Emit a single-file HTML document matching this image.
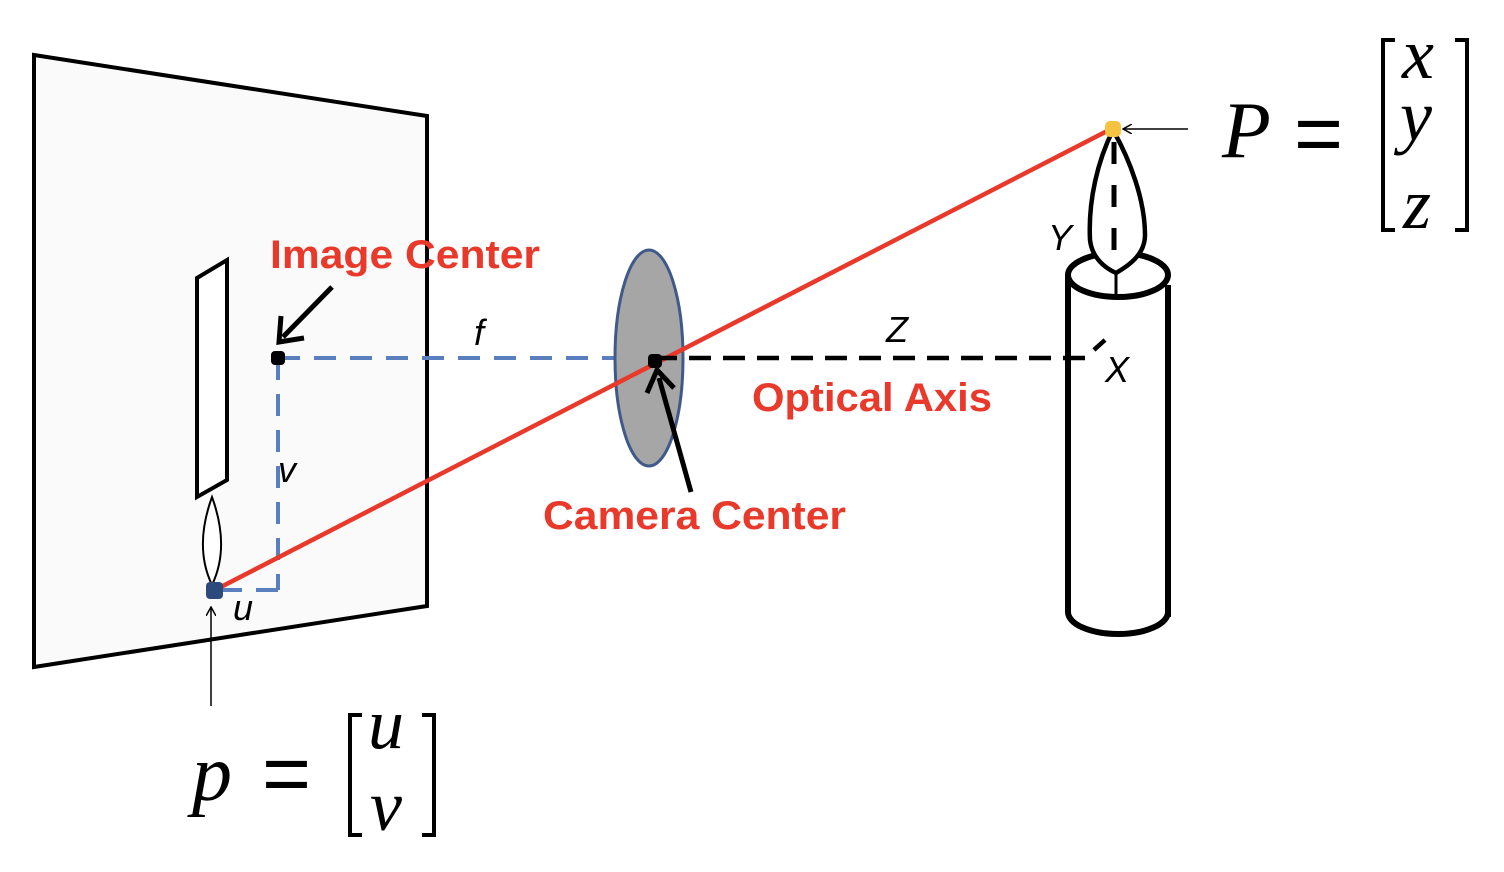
<!DOCTYPE html>
<html><head><style>body{margin:0;background:#fff}svg{display:block}</style></head><body>
<svg width="1504" height="872" viewBox="0 0 1504 872" xmlns="http://www.w3.org/2000/svg" font-family="Liberation Sans, sans-serif">
<defs><marker id="ah" markerWidth="10" markerHeight="10" refX="8" refY="5" orient="auto" markerUnits="userSpaceOnUse"><path d="M0,0 L9,5 L0,10" fill="none" stroke="#000" stroke-width="1.5"/></marker></defs>
<polygon points="34,55 427,116 427,606 34,667" fill="#fafafa" stroke="#000" stroke-width="4"/>
<polygon points="197,278 227,260 227,480 197,497" fill="#fff" stroke="#000" stroke-width="4"/>
<path d="M212,497 C200,530 200,560 212,585 C224,560 224,530 212,497Z" fill="#fff" stroke="#000" stroke-width="2"/>
<g stroke="#5a7fbf" stroke-width="4" stroke-dasharray="22,14" fill="none">
<path d="M278,358 H615"/><path d="M278,358 V590"/><path d="M278,590 H222"/>
</g>
<ellipse cx="649" cy="358" rx="34" ry="108" fill="#a6a6a6" stroke="#3f5a8a" stroke-width="3"/>
<line x1="215" y1="590" x2="1113" y2="128" stroke="#e8392b" stroke-width="4.5"/>
<path d="M655,358 H1085 L1105,340" stroke="#000" stroke-width="4.5" stroke-dasharray="22,12" fill="none"/>
<rect x="271" y="351" width="14" height="14" rx="4" fill="#000"/>
<rect x="648" y="354" width="14" height="14" rx="4" fill="#000"/>
<rect x="206" y="582" width="17" height="17" rx="4" fill="#2c4a7c"/>
<path d="M1068,275 V612 M1168,285 V617" stroke="#000" stroke-width="6" fill="none"/>
<path d="M1068,612 A50,22 0 0 0 1168,612" stroke="#000" stroke-width="6" fill="none"/>
<ellipse cx="1118" cy="275" rx="50" ry="22" fill="#fff" stroke="#000" stroke-width="6"/>
<line x1="1116" y1="272" x2="1116" y2="297" stroke="#000" stroke-width="3"/>
<path d="M1113,130 C1098,160 1088,200 1090,240 C1092,258 1105,268 1116,273 C1128,266 1145,255 1145,235 C1145,200 1130,160 1113,130Z" fill="#fff" stroke="#000" stroke-width="4.5"/>
<path d="M1114,142 V255" stroke="#000" stroke-width="5" stroke-dasharray="22,21"/>
<rect x="1105" y="121" width="16" height="16" rx="5" fill="#f5c242"/>
<line x1="1188" y1="129" x2="1124" y2="129" stroke="#000" stroke-width="1.5" marker-end="url(#ah)"/>
<line x1="211" y1="706" x2="211" y2="608" stroke="#000" stroke-width="1.5" marker-end="url(#ah)"/>
<line x1="332" y1="287" x2="283" y2="337" stroke="#000" stroke-width="5"/>
<path d="M281,316 L279,342 L304,338" fill="none" stroke="#000" stroke-width="5"/>
<line x1="691" y1="492" x2="659" y2="378" stroke="#000" stroke-width="5"/>
<path d="M647,393 L657,370 L674,388" fill="none" stroke="#000" stroke-width="5"/>
<g fill="#e8392b" font-weight="bold" font-size="40">
<text x="270" y="268" textLength="270" lengthAdjust="spacingAndGlyphs">Image Center</text>
<text x="752" y="411" textLength="240" lengthAdjust="spacingAndGlyphs">Optical Axis</text>
<text x="543" y="529" textLength="303" lengthAdjust="spacingAndGlyphs">Camera Center</text>
</g>
<g font-style="italic" font-size="36" fill="#000">
<text x="474" y="345">f</text>
<text x="886" y="342">Z</text>
<text x="1048" y="250">Y</text>
<text x="1105" y="382">X</text>
<text x="278" y="482">v</text>
<text x="233" y="620">u</text>
</g>
<g font-family="Liberation Serif, serif" font-style="italic" fill="#000">
<text x="1222" y="157" font-size="80">P</text>
<text x="192" y="800" font-size="80">p</text>
<text x="1402" y="78" font-size="72">x</text>
<text x="1400" y="140" font-size="72">y</text>
<text x="1403" y="228" font-size="72">z</text>
<text x="368" y="748" font-size="72">u</text>
<text x="370" y="830" font-size="72">v</text>
</g>
<g font-family="Liberation Sans, sans-serif" font-size="84" fill="#000"><text x="1294" y="162">=</text><text x="262" y="802">=</text></g>
<g stroke="#000" stroke-width="4" fill="none">
<path d="M1395,40 H1383 V230 H1395"/><path d="M1455,40 H1467 V230 H1455"/>
<path d="M362,715 H350 V835 H362"/><path d="M422,715 H434 V835 H422"/>
</g>
</svg>
</body></html>
